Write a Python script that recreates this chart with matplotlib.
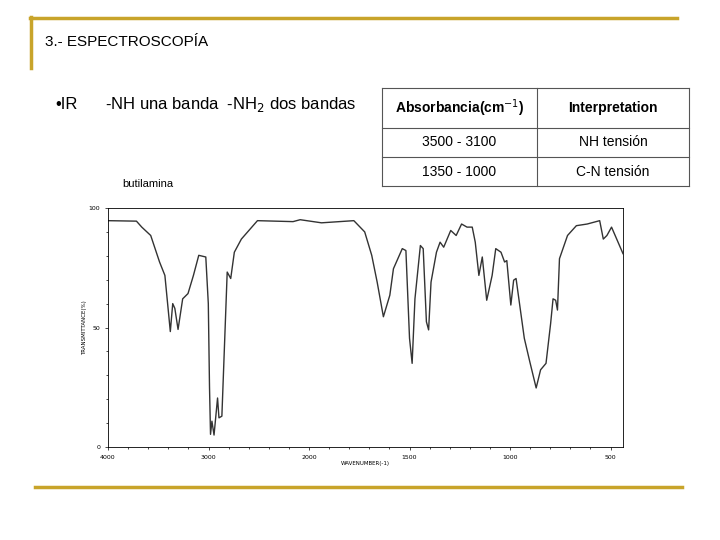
import matplotlib

matplotlib.use("Agg")
import matplotlib.pyplot as plt
from matplotlib.lines import Line2D
import numpy as np

# IR spectrum of butylamine
wavenumber = [4000, 3717, 3664, 3575, 3487, 3434, 3380, 3356, 3335, 3303, 3257, 3204, 3150, 3097,
              3027, 3002, 2990, 2980, 2966, 2945, 2910, 2896, 2867, 2814, 2779, 2743, 2673, 2513,
              2159, 2088, 1938, 1777, 1723, 1688, 1661, 1630, 1598, 1580, 1536, 1518, 1500, 1487,
              1473, 1446, 1432, 1416, 1405, 1393, 1366, 1348, 1330, 1295, 1268, 1241, 1214, 1188,
              1173, 1155, 1138, 1116, 1089, 1071, 1045, 1027, 1016, 996, 982, 970, 929, 902, 870,
              848, 821, 798, 786, 773, 764, 754, 714, 670, 616, 554, 536, 518, 495, 438]
transmittance = [94.7, 94.5, 92, 88.5, 77.4, 71.8, 48.3, 60, 58, 49.2, 62, 64.2, 71.8, 80.2,
                 79.5, 60, 25, 5.3, 10.8, 5, 20.5, 12.2, 12.9, 73.2, 70.5, 81.5, 87, 94.7,
                 94.3, 95.1, 93.8, 94.7, 90, 80.2, 69, 54.5, 63.5, 74.6, 83, 82.2, 45.5, 35,
                 62, 84.3, 83, 52.4, 49, 69, 81.5, 85.7, 83.6, 90.6, 88.5, 93.3, 92, 92,
                 85.7, 71.8, 79.5, 61.4, 71.8, 83, 81.5, 77.4, 78, 59.4, 69.8, 70.5, 45.5, 35.8, 24.7,
                 32.3, 35, 51.7, 62, 61.4, 57.3, 78.8, 88.5, 92.6, 93.3, 94.7, 87, 88.5, 92, 80.9]
x_ticks = [4000, 3000, 2000, 1500, 1000, 500]
y_ticks = [0, 50, 100]

table_header = ["Absorbancia(cm$^{-1}$)", "Interpretation"]
table_rows = [["3500 - 3100", "NH tensión"], ["1350 - 1000", "C-N tensión"]]

W, H = 720, 540
GOLD = "#c8a42a"


def fx(x):
    return x / W


def fy(y):
    return 1 - y / H


def fwd(x):
    x = np.asarray(x, dtype=float)
    return np.where(x >= 2000, x, 2 * x - 2000)


def inv(u):
    u = np.asarray(u, dtype=float)
    return np.where(u >= 2000, u, (u + 2000) / 2)


fig = plt.figure(figsize=(7.2, 5.4), dpi=100)
fig.patch.set_facecolor("white")

# slide decoration
fig.add_artist(Line2D([fx(30), fx(677)], [fy(18), fy(18)], color=GOLD, lw=2.5))
fig.add_artist(Line2D([fx(31), fx(31)], [fy(17), fy(68)], color=GOLD, lw=2.5))
fig.add_artist(Line2D([fx(35), fx(682)], [fy(487), fy(487)], color=GOLD, lw=2.5))

fig.text(fx(45), fy(42), "3.- ESPECTROSCOPÍA", fontsize=11, va="center", family="Liberation Sans")
fig.text(fx(55), fy(104), "•IR", fontsize=12, va="center", family="Liberation Sans")
fig.text(fx(105), fy(104), "-NH una banda  -NH$_2$ dos bandas", fontsize=12, va="center",
         family="Liberation Sans")
fig.text(fx(122), fy(184), "butilamina", fontsize=8, va="center", family="Liberation Sans")

# table
tx0, tx1, txm = 382, 689, 537
ty = [88, 128, 157, 186]
tkw = dict(color="#555555", lw=0.8)
for y in ty:
    fig.add_artist(Line2D([fx(tx0), fx(tx1)], [fy(y), fy(y)], **tkw))
for x in (tx0, txm, tx1):
    fig.add_artist(Line2D([fx(x), fx(x)], [fy(ty[0]), fy(ty[-1])], **tkw))
for i, txt in enumerate(table_header):
    cx = (tx0 + txm) / 2 if i == 0 else (txm + tx1) / 2
    fig.text(fx(cx), fy(108), txt, fontsize=10, fontweight="bold", ha="center", va="center",
             family="Liberation Sans")
for r, row in enumerate(table_rows):
    cy = (ty[r + 1] + ty[r + 2]) / 2
    for i, txt in enumerate(row):
        cx = (tx0 + txm) / 2 if i == 0 else (txm + tx1) / 2
        fig.text(fx(cx), fy(cy), txt, fontsize=10, ha="center", va="center", family="Liberation Sans")

# spectrum
ax = fig.add_axes([fx(108), fy(447), (623 - 108) / W, (447 - 208) / H])
ax.set_xscale("function", functions=(fwd, inv))
ax.plot(wavenumber, transmittance, color="#333333", lw=1.0)
ax.set_xlim(4000, 438)
ax.set_ylim(0, 100)
ax.set_xticks(x_ticks)
ax.set_yticks(y_ticks)
ax.set_xticklabels([str(t) for t in x_ticks])
ax.tick_params(labelsize=4.5, length=2, width=0.5)
ax.set_xticks(list(range(4000, 2000, -200)) + list(range(2000, 450, -100)), minor=True)
ax.set_yticks(range(0, 101, 10), minor=True)
ax.tick_params(which="minor", length=1.5, width=0.5)
ax.set_xlabel("WAVENUMBER(-1)", fontsize=4, labelpad=1)
ax.set_ylabel("TRANSMITTANCE(%)", fontsize=4, labelpad=1)
for s in ax.spines.values():
    s.set_linewidth(0.6)

fig.savefig("out.png", dpi=100)
